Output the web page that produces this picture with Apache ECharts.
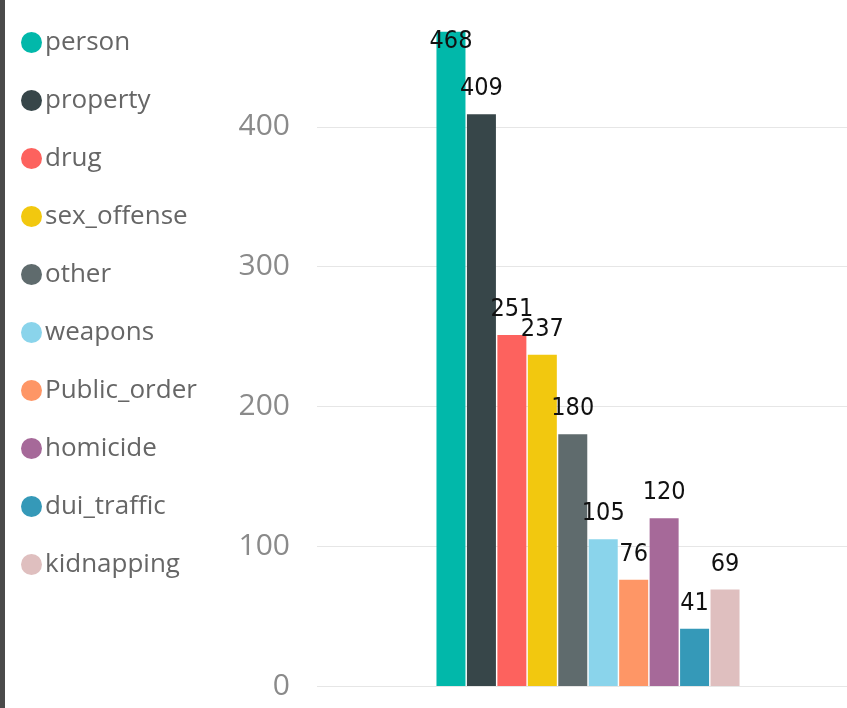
<!DOCTYPE html>
<html><head><meta charset="utf-8">
<script src="https://cdn.jsdelivr.net/npm/echarts@6/dist/echarts.min.js"></script>
<style>html,body{margin:0;padding:0;background:#fff;overflow:hidden;width:847px;height:708px;position:relative}
#c{position:absolute;left:0;top:-13px;width:880px;height:721px}
#edge{position:absolute;left:0;top:0;width:5px;height:708px;background:#4a4a4a}</style>
</head><body><div id="c"></div><div id="edge"></div>
<script>
const categories = ['Count'];
const seriesNames = ['person','property','drug','sex_offense','other','weapons','Public_order','homicide','dui_traffic','kidnapping'];
const seriesValues = [468, 409, 251, 237, 180, 105, 76, 120, 41, 69];
const seriesColors = ['#01B8AA','#374649','#FD625E','#F2C80F','#5F6B6D','#8AD4EB','#FE9666','#A66999','#3599B8','#DFBFBF'];
const yTicks = [0, 100, 200, 300, 400];

const chart = echarts.init(document.getElementById('c'));
const series = seriesNames.map((name, i) => ({
  name: name,
  type: 'bar',
  data: [{
    value: seriesValues[i],
    label: i === 0 ? { position: 'insideTop', distance: -3 } : undefined
  }],
  barWidth: 29,
  barGap: '5%',
  itemStyle: { color: seriesColors[i] },
  label: {
    show: true,
    position: 'top',
    distance: 13,
    color: '#111',
    fontFamily: 'DejaVu Sans Condensed, Liberation Sans Narrow, sans-serif',
    fontSize: 25
  }
}));

chart.setOption({
  animation: false,
  color: seriesColors,
  legend: {
    orient: 'vertical',
    left: 16,
    top: 35,
    icon: 'circle',
    itemWidth: 21,
    itemHeight: 21,
    itemGap: 27,
    data: seriesNames,
    textStyle: { fontFamily: 'Open Sans', fontSize: 26, color: '#666', lineHeight: 31, padding: [0, 0, 0, -2] }
  },
  grid: { left: 317, right: 21, top: 0, bottom: 22, containLabel: false },
  xAxis: {
    type: 'category',
    data: categories,
    axisLine: { show: false },
    axisTick: { show: false },
    axisLabel: { show: false }
  },
  yAxis: {
    type: 'value',
    min: yTicks[0],
    max: 500,
    interval: 100,
    axisLine: { show: false },
    axisTick: { show: false },
    splitLine: { lineStyle: { color: '#e6e6e6', width: 1 } },
    axisLabel: { showMaxLabel: false, margin: 27, fontFamily: 'Open Sans', fontSize: 30, color: '#8a8a8a' }
  },
  series: series
});
</script></body></html>
